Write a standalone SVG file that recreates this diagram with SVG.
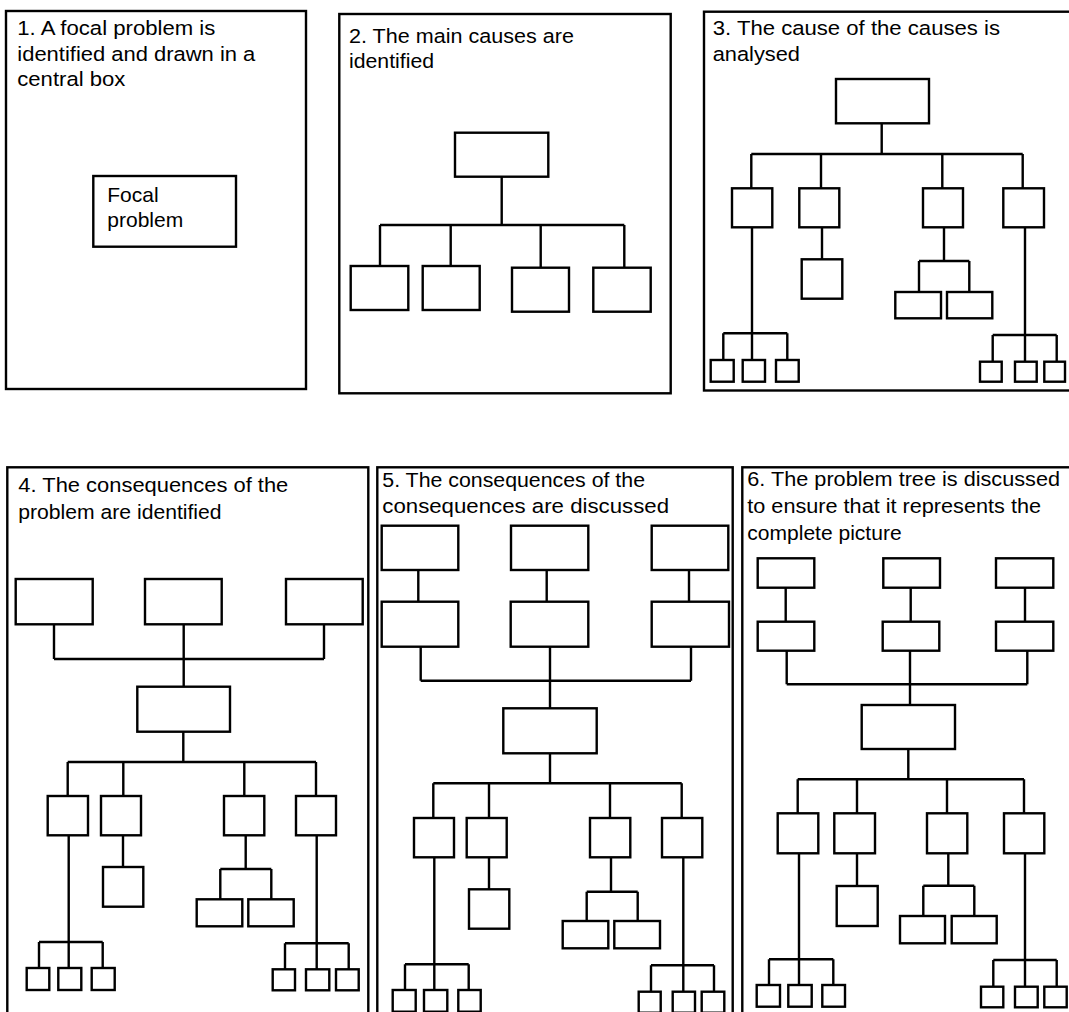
<svg xmlns="http://www.w3.org/2000/svg" width="1069" height="1012" viewBox="0 0 1069 1012">
<style>
.p{fill:none;stroke:#000;stroke-width:2.4}
.b{fill:#fff;stroke:#000;stroke-width:2.4}
.c path{fill:none;stroke:#000;stroke-width:2.4}
.t{font-family:"Liberation Sans",Arial,sans-serif;font-size:20.5px;fill:#000}
.f{font-family:"Liberation Sans",Arial,sans-serif;font-size:21px;fill:#000}
</style>
<rect width="1069" height="1012" fill="#fff"/>

<!-- Panel 1 -->
<g id="panel1">
<rect class="p" x="6" y="11" width="300" height="378"/>
<text class="t" x="17.3" y="35" textLength="198" lengthAdjust="spacingAndGlyphs">1. A focal problem is</text>
<text class="t" x="17.3" y="61" textLength="238" lengthAdjust="spacingAndGlyphs">identified and drawn in a</text>
<text class="t" x="17.3" y="86" textLength="108" lengthAdjust="spacingAndGlyphs">central box</text>
<g id="p1-focal">
<rect class="b" x="93.3" y="176" width="142.7" height="70.7"/>
<text class="f" x="107.3" y="202.3">Focal</text>
<text class="f" x="107.3" y="226.7">problem</text>
</g>
</g>

<!-- Panel 2 -->
<g id="panel2">
<rect class="p" x="339.3" y="14" width="331.4" height="379.3"/>
<text class="t" x="349" y="42.7" textLength="225" lengthAdjust="spacingAndGlyphs">2. The main causes are</text>
<text class="t" x="349" y="68.3" textLength="85" lengthAdjust="spacingAndGlyphs">identified</text>
</g>
<g id="p2-connectors" class="c">
<path d="M501.7,176.7V225M380,225H624.3M380,225V266M450.7,225V267M540.7,225V267.7M624.3,225V267.7"/>
</g>
<g id="p2-top"><rect class="b" x="455" y="132.7" width="93.3" height="44"/></g>
<g id="p2-c1"><rect class="b" x="350.7" y="266" width="57.6" height="44"/></g>
<g id="p2-c2"><rect class="b" x="422.7" y="266" width="57" height="44"/></g>
<g id="p2-c3"><rect class="b" x="512" y="267.7" width="57" height="44"/></g>
<g id="p2-c4"><rect class="b" x="593.3" y="267.7" width="57.4" height="44"/></g>

<!-- Panel 3 -->
<g id="panel3">
<rect class="p" x="704" y="11.7" width="372" height="378.8"/>
<text class="t" x="712.7" y="35" textLength="287.3" lengthAdjust="spacingAndGlyphs">3. The cause of the causes is</text>
<text class="t" x="712.7" y="60.5" textLength="87.3" lengthAdjust="spacingAndGlyphs">analysed</text>
</g>
<g id="p3-connectors" class="c">
<path d="M881.7,123.3V154M751.3,154H1022.7M751.3,154V188.3M821,154V188.3M942.3,154V188.3M1022.7,154V188.3"/>
<path d="M752,227.3V333.3M723.3,333.3H787.3M723.3,333.3V360M752,333.3V360M787.3,333.3V360"/>
<path d="M822,227.3V259.3"/>
<path d="M944,227.3V261M919,261H969.3M919,261V292M969.3,261V292"/>
<path d="M1025,227.3V335M992.7,335H1056.7M992.7,335V361.7M1025,335V361.7M1056.7,335V361.7"/>
</g>
<g id="p3-top"><rect class="b" x="836" y="79" width="93" height="44.3"/></g>
<g id="p3-a"><rect class="b" x="732" y="188.3" width="40.3" height="39"/></g>
<g id="p3-b"><rect class="b" x="799.3" y="188.3" width="40" height="39"/></g>
<g id="p3-c"><rect class="b" x="923" y="188.3" width="40" height="39"/></g>
<g id="p3-d"><rect class="b" x="1003.3" y="188.3" width="40.7" height="39"/></g>
<g id="p3-a1"><rect class="b" x="710.7" y="360" width="23" height="21.7"/></g>
<g id="p3-a2"><rect class="b" x="742.7" y="360" width="22.3" height="21.7"/></g>
<g id="p3-a3"><rect class="b" x="776" y="360" width="22.7" height="21.7"/></g>
<g id="p3-b1"><rect class="b" x="801.7" y="259.3" width="40.6" height="39.4"/></g>
<g id="p3-c1"><rect class="b" x="895.3" y="292" width="45.7" height="26.3"/></g>
<g id="p3-c2"><rect class="b" x="947" y="292" width="45.3" height="26.3"/></g>
<g id="p3-d1"><rect class="b" x="980" y="361.7" width="21.7" height="20"/></g>
<g id="p3-d2"><rect class="b" x="1015" y="361.7" width="21.7" height="20"/></g>
<g id="p3-d3"><rect class="b" x="1044.3" y="361.7" width="20.7" height="20"/></g>

<!-- Panel 4 -->
<g id="panel4">
<rect class="p" x="7.3" y="467.3" width="361" height="560"/>
<text class="t" x="18.3" y="491.7" textLength="270" lengthAdjust="spacingAndGlyphs">4. The consequences of the</text>
<text class="t" x="18.3" y="519.3" textLength="203.3" lengthAdjust="spacingAndGlyphs">problem are identified</text>
</g>
<g id="p4-connectors" class="c">
<path d="M54,624.3V659M183.7,624.3V686.7M324,624.3V659M54,659H324"/>
<path d="M183.3,731.7V762M67.7,762H316M67.7,762V796M123.3,762V796M244.3,762V796M316,762V796"/>
<path d="M68.7,835.3V942M39,942H102.7M39,942V968M68.7,942V968M102.7,942V968"/>
<path d="M123,835.3V867"/>
<path d="M245.7,835.3V869M220.3,869H271.3M220.3,869V899.3M271.3,869V899.3"/>
<path d="M316.7,835.3V943.3M285,943.3H348.7M285,943.3V969.3M316.7,943.3V969.3M348.7,943.3V969.3"/>
</g>
<g id="p4-e1"><rect class="b" x="15.7" y="579" width="77" height="45.3"/></g>
<g id="p4-e2"><rect class="b" x="145" y="579" width="76.7" height="45.3"/></g>
<g id="p4-e3"><rect class="b" x="286" y="579" width="76.7" height="45.3"/></g>
<g id="p4-mid"><rect class="b" x="137.3" y="686.7" width="92.7" height="45"/></g>
<g id="p4-a"><rect class="b" x="47.7" y="796" width="40.3" height="39.3"/></g>
<g id="p4-b"><rect class="b" x="101" y="796" width="40" height="39.3"/></g>
<g id="p4-c"><rect class="b" x="224" y="796" width="40.3" height="39.3"/></g>
<g id="p4-d"><rect class="b" x="296" y="796" width="40" height="39.3"/></g>
<g id="p4-a1"><rect class="b" x="26.7" y="968" width="22.6" height="22"/></g>
<g id="p4-a2"><rect class="b" x="58.3" y="968" width="23" height="22"/></g>
<g id="p4-a3"><rect class="b" x="91.7" y="968" width="23" height="22"/></g>
<g id="p4-b1"><rect class="b" x="103" y="867" width="40.3" height="39.7"/></g>
<g id="p4-c1"><rect class="b" x="196.7" y="899.3" width="45.6" height="27"/></g>
<g id="p4-c2"><rect class="b" x="248.3" y="899.3" width="45.4" height="27"/></g>
<g id="p4-d1"><rect class="b" x="272.7" y="969.3" width="22.3" height="21"/></g>
<g id="p4-d2"><rect class="b" x="306" y="969.3" width="23.3" height="21"/></g>
<g id="p4-d3"><rect class="b" x="336" y="969.3" width="22.7" height="21"/></g>

<!-- Panel 5 -->
<g id="panel5">
<rect class="p" x="377.3" y="467.3" width="355.4" height="560"/>
<text class="t" x="382.3" y="486.7" textLength="262.7" lengthAdjust="spacingAndGlyphs">5. The consequences of the</text>
<text class="t" x="382.3" y="513.3" textLength="286.7" lengthAdjust="spacingAndGlyphs">consequences are discussed</text>
</g>
<g id="p5-connectors" class="c">
<path d="M418.3,570V601.7M546.7,570V601.7M689,570V601.7"/>
<path d="M420.7,646.7V680.7M550,646.7V708.3M691,646.7V680.7M420.7,680.7H691"/>
<path d="M550,753.3V783.3M433.3,783.3H681.7M433.3,783.3V818M489,783.3V818M610,783.3V818M681.7,783.3V818"/>
<path d="M434.3,857.3V964.3M405,964.3H468.7M405,964.3V990M434.3,964.3V990M468.7,964.3V990"/>
<path d="M489,857.3V889.3"/>
<path d="M611,857.3V891.7M586.7,891.7H637.7M586.7,891.7V921M637.7,891.7V921"/>
<path d="M683.3,857.3V965.3M651,965.3H714M651,965.3V991.7M683.3,965.3V991.7M714,965.3V991.7"/>
</g>
<g id="p5-t1"><rect class="b" x="381.7" y="525.7" width="76.6" height="44.3"/></g>
<g id="p5-t2"><rect class="b" x="511" y="525.7" width="77.3" height="44.3"/></g>
<g id="p5-t3"><rect class="b" x="651.7" y="525.7" width="76.6" height="44.3"/></g>
<g id="p5-e1"><rect class="b" x="381.7" y="601.7" width="76.6" height="45"/></g>
<g id="p5-e2"><rect class="b" x="510.7" y="601.7" width="77.6" height="45"/></g>
<g id="p5-e3"><rect class="b" x="651.7" y="601.7" width="77.3" height="45"/></g>
<g id="p5-mid"><rect class="b" x="503.3" y="708.3" width="93.4" height="45"/></g>
<g id="p5-a"><rect class="b" x="414" y="818" width="40" height="39.3"/></g>
<g id="p5-b"><rect class="b" x="466.7" y="818" width="40" height="39.3"/></g>
<g id="p5-c"><rect class="b" x="590" y="818" width="40.3" height="39.3"/></g>
<g id="p5-d"><rect class="b" x="662" y="818" width="40.3" height="39.3"/></g>
<g id="p5-a1"><rect class="b" x="392.7" y="990" width="23" height="21.7"/></g>
<g id="p5-a2"><rect class="b" x="424" y="990" width="23.3" height="21.7"/></g>
<g id="p5-a3"><rect class="b" x="458.3" y="990" width="22.4" height="21.7"/></g>
<g id="p5-b1"><rect class="b" x="469" y="889.3" width="40.3" height="39.4"/></g>
<g id="p5-c1"><rect class="b" x="562.7" y="921" width="45.6" height="27.3"/></g>
<g id="p5-c2"><rect class="b" x="614.3" y="921" width="45.7" height="27.3"/></g>
<g id="p5-d1"><rect class="b" x="638.7" y="991.7" width="22" height="21"/></g>
<g id="p5-d2"><rect class="b" x="672.7" y="991.7" width="22.3" height="21"/></g>
<g id="p5-d3"><rect class="b" x="701.7" y="991.7" width="22.6" height="21"/></g>

<!-- Panel 6 -->
<g id="panel6">
<rect class="p" x="742.3" y="467.3" width="340" height="560"/>
<text class="t" x="747.3" y="486" textLength="312.7" lengthAdjust="spacingAndGlyphs">6. The problem tree is discussed</text>
<text class="t" x="747.3" y="513.3" textLength="293.7" lengthAdjust="spacingAndGlyphs">to ensure that it represents the</text>
<text class="t" x="747.3" y="540" textLength="154.3" lengthAdjust="spacingAndGlyphs">complete picture</text>
</g>
<g id="p6-connectors" class="c">
<path d="M785.7,587.7V621.7M910.7,587.7V621.7M1025,587.7V621.7"/>
<path d="M786.7,650.7V684.3M910,650.7V705M1027.3,650.7V684.3M786.7,684.3H1027.3"/>
<path d="M908.3,749V779.3M797.7,779.3H1024M797.7,779.3V813.3M857,779.3V813.3M947,779.3V813.3M1024,779.3V813.3"/>
<path d="M799,853.3V959.3M769,959.3H833.3M769,959.3V985M799,959.3V985M833.3,959.3V985"/>
<path d="M857,853.3V886"/>
<path d="M948.3,853.3V885.7M923.3,885.7H974.3M923.3,885.7V916M974.3,885.7V916"/>
<path d="M1025,853.3V960M993.3,960H1056.7M993.3,960V986.7M1025,960V986.7M1056.7,960V986.7"/>
</g>
<g id="p6-t1"><rect class="b" x="757.7" y="558.3" width="56.6" height="29.4"/></g>
<g id="p6-t2"><rect class="b" x="883.3" y="558.3" width="56.7" height="29.4"/></g>
<g id="p6-t3"><rect class="b" x="996" y="558.3" width="57.3" height="29.4"/></g>
<g id="p6-e1"><rect class="b" x="757.7" y="621.7" width="56.6" height="29"/></g>
<g id="p6-e2"><rect class="b" x="882.7" y="621.7" width="56.6" height="29"/></g>
<g id="p6-e3"><rect class="b" x="996" y="621.7" width="57.3" height="29"/></g>
<g id="p6-mid"><rect class="b" x="861.7" y="705" width="93.3" height="44"/></g>
<g id="p6-a"><rect class="b" x="777.7" y="813.3" width="40.6" height="40"/></g>
<g id="p6-b"><rect class="b" x="834.3" y="813.3" width="40.7" height="40"/></g>
<g id="p6-c"><rect class="b" x="927" y="813.3" width="40.3" height="40"/></g>
<g id="p6-d"><rect class="b" x="1004" y="813.3" width="40.3" height="40"/></g>
<g id="p6-a1"><rect class="b" x="756.7" y="985" width="23.3" height="21.7"/></g>
<g id="p6-a2"><rect class="b" x="788.3" y="985" width="23.4" height="21.7"/></g>
<g id="p6-a3"><rect class="b" x="822.3" y="985" width="22.7" height="21.7"/></g>
<g id="p6-b1"><rect class="b" x="836.7" y="886" width="41" height="40"/></g>
<g id="p6-c1"><rect class="b" x="900" y="916" width="45" height="27.3"/></g>
<g id="p6-c2"><rect class="b" x="951.7" y="916" width="45" height="27.3"/></g>
<g id="p6-d1"><rect class="b" x="981" y="986.7" width="22.3" height="20.6"/></g>
<g id="p6-d2"><rect class="b" x="1015" y="986.7" width="22.7" height="20.6"/></g>
<g id="p6-d3"><rect class="b" x="1044.3" y="986.7" width="22.4" height="20.6"/></g>
</svg>
